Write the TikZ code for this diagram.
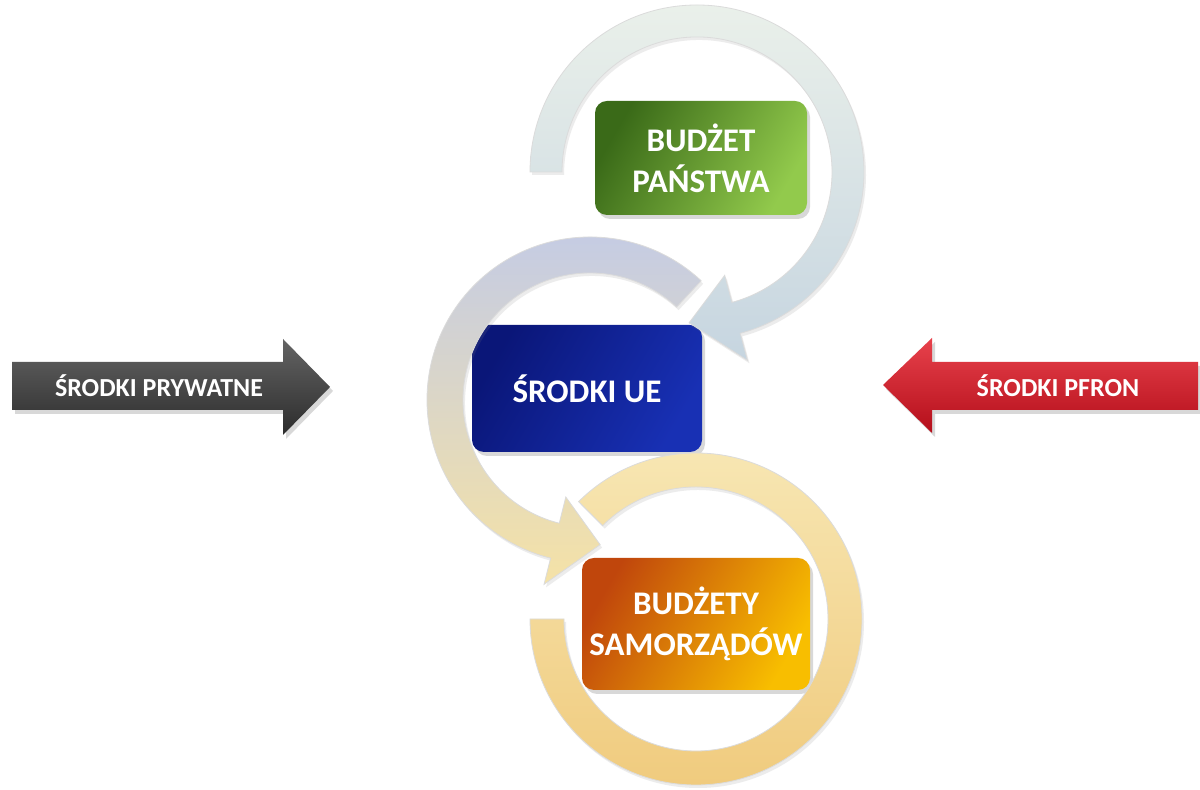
\documentclass[tikz,border=0pt]{standalone}
\usepackage{fontspec}
\setmainfont{Carlito}
\usetikzlibrary{shadows}

\definecolor{ringtopA}{HTML}{EAF0EA}
\definecolor{ringtopB}{HTML}{C6D5E0}
\definecolor{ringmidA}{HTML}{C3CBE6}
\definecolor{ringmidM}{HTML}{ECE9E4}
\definecolor{ringmidB}{HTML}{F5E2A6}
\definecolor{ringbotA}{HTML}{F7E6B2}
\definecolor{ringbotB}{HTML}{F0CB7E}
\definecolor{greenA}{HTML}{3A6A18}
\definecolor{greenB}{HTML}{92CA4C}
\definecolor{blueA}{HTML}{0A1678}
\definecolor{blueB}{HTML}{1830B4}
\definecolor{orangeA}{HTML}{C0460C}
\definecolor{orangeB}{HTML}{F8BE00}
\definecolor{grayA}{HTML}{646464}
\definecolor{grayB}{HTML}{2C2C2C}
\definecolor{redA}{HTML}{E8424C}
\definecolor{redB}{HTML}{B40E1A}

\begin{document}
\begin{tikzpicture}[x=0.5pt, y=0.5pt,
  ring/.style={draw=black!14, line width=0.4pt,
    drop shadow={shadow xshift=1pt, shadow yshift=-1.5pt, opacity=0.15}},
  fundbox/.style={rounded corners=6pt, inner sep=0pt, align=center,
    text=white, font=\bfseries\fontsize{16.5}{20.5}\selectfont,
    drop shadow={shadow xshift=1.5pt, shadow yshift=-2pt, opacity=0.3}},
  sidearrow/.style={drop shadow={shadow xshift=1.5pt, shadow yshift=-2pt, opacity=0.3}},
  sidetext/.style={text=white, font=\bfseries\fontsize{13}{15}\selectfont}]

  \fill[white] (0,0) rectangle (1200,790);
  \useasboundingbox (0,0) rectangle (1200,790);

  % Boxes
  \node[fundbox, minimum width=106pt, minimum height=57pt,
        left color=greenA, right color=greenB, shading angle=60]
    (state) at (701,632) {BUDŻET\\PAŃSTWA};
  \node[fundbox, minimum width=115pt, minimum height=63.5pt,
        left color=blueA, right color=blueB, shading angle=60]
    (eu) at (587,401.5) {ŚRODKI UE};
  \node[fundbox, minimum width=114pt, minimum height=66pt,
        left color=orangeA, right color=orangeB, shading angle=60]
    (local) at (696,166) {BUDŻETY\\SAMORZĄDÓW};

  % Top ring
  \begin{scope}[shift={(697,618)}]
    \path[ring, top color=ringtopA, bottom color=ringtopB]
      (180:167) arc[start angle=180, end angle=-75, radius=167]
      -- (-75:195) -- (-93:151) -- (-75:107)
      -- (-75:135) arc[start angle=-75, end angle=180, radius=135] -- cycle;
  \end{scope}
  % Middle ring
  \begin{scope}[shift={(590,390)}]
    \path[ring, top color=ringmidA, middle color=ringmidM, bottom color=ringmidB]
      (47:163) arc[start angle=47, end angle=256, radius=163]
      -- (256:190) -- (274:145) -- (256:100)
      -- (256:127) arc[start angle=256, end angle=47, radius=127] -- cycle;
  \end{scope}
  % Bottom ring
  \begin{scope}[shift={(696,171)}]
    \path[ring, top color=ringbotA, bottom color=ringbotB]
      (180:166) arc[start angle=180, end angle=495, radius=166]
      -- (135:132) arc[start angle=495, end angle=180, radius=132] -- cycle;
  \end{scope}

  % Side arrows
  \path[sidearrow, top color=grayA, bottom color=grayB]
    (12,380) -- (283,380) -- (283,355) -- (330,403)
    -- (283,451) -- (283,428) -- (12,428) -- cycle;
  \node[sidetext] (private) at (159,404) {ŚRODKI PRYWATNE};

  \path[sidearrow, top color=redA, bottom color=redB]
    (1198,380) -- (932,380) -- (932,357) -- (883,405)
    -- (932,452) -- (932,428) -- (1198,428) -- cycle;
  \node[sidetext] (pfron) at (1058,404) {ŚRODKI PFRON};

\end{tikzpicture}
\end{document}
